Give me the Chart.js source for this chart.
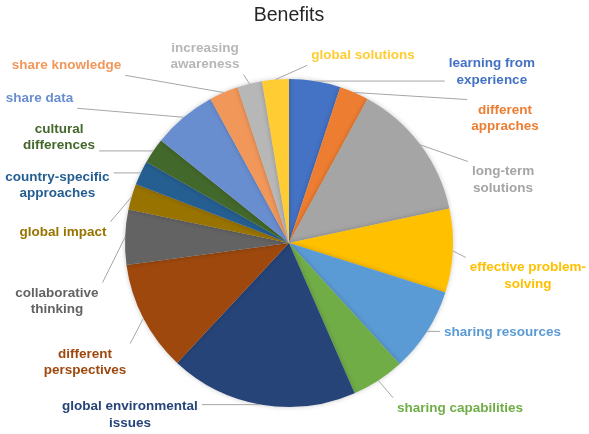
<!DOCTYPE html>
<html>
<head>
<meta charset="utf-8">
<title>Benefits</title>
<script src="https://cdn.jsdelivr.net/npm/chart.js@4/dist/chart.umd.min.js"></script>
<style>
  html, body { margin: 0; padding: 0; background: #fff; }
  #wrap { width: 589px; height: 434px; }
</style>
</head>
<body>
<div id="wrap"><canvas id="benefits"></canvas></div>
<script>
// Benefits pie - slice sizes
const categories = [
    ['learning from', 'experience'],
    ['different', 'appraches'],
    ['long-term', 'solutions'],
    ['effective problem-', 'solving'],
    ['sharing resources'],
    ['sharing capabilities'],
    ['global environmental', 'issues'],
    ['different', 'perspectives'],
    ['collaborative', 'thinking'],
    ['global impact'],
    ['country-specific', 'approaches'],
    ['cultural', 'differences'],
    ['share data'],
    ['share knowledge'],
    ['increasing', 'awareness'],
    ['global solutions']
];
const values = [18.2, 10.4, 49.3, 29.7, 30.0, 18.8, 66.6, 39.3, 19.5, 9.2, 8.6, 9.1, 22.7, 10.3, 8.8, 9.5];

const sliceColors = [
    '#4472C4', '#ED7D31', '#A5A5A5', '#FFC000', '#5B9BD5', '#70AD47', '#264478', '#9E480E',
    '#636363', '#997300', '#255E91', '#43682B', '#698ED0', '#F1975A', '#B7B7B7', '#FFCD33'
];

// label centres, in units of the pie radius, relative to the pie centre
const labelSpots = [
    [1.237, -1.045], [1.317, -0.762], [1.305, -0.384], [1.457, 0.201],
    [1.302, 0.543], [1.043, 1.006], [-0.970, 1.046], [-1.244, 0.726],
    [-1.415, 0.354], [-1.378, -0.067], [-1.412, -0.351], [-1.402, -0.646],
    [-1.521, -0.884], [-1.357, -1.085], [-0.512, -1.140], [0.451, -1.146]
];

const outsideLabels = {
    id: 'outsideLabels',
    afterDatasetsDraw(chart) {
        const ctx = chart.ctx;
        const meta = chart.getDatasetMeta(0);
        const lineH = 16.5;
        ctx.save();
        ctx.font = 'bold 13.5px "Liberation Sans", Arial, sans-serif';
        ctx.textAlign = 'center';
        ctx.textBaseline = 'middle';
        meta.data.forEach((arc, i) => {
            const r = arc.outerRadius;
            const mid = (arc.startAngle + arc.endAngle) / 2;
            const ax = arc.x + Math.cos(mid) * r;
            const ay = arc.y + Math.sin(mid) * r;
            const lines = chart.data.labels[i];
            const cx = arc.x + labelSpots[i][0] * r;
            const cy = arc.y + labelSpots[i][1] * r;
            const w = Math.max(...lines.map(l => ctx.measureText(l).width));
            const h = lines.length * lineH;
            // leader line to nearest point of the label box
            const left = cx - w / 2 - 4, right = cx + w / 2 + 4;
            const top = cy - h / 2 - 2, bottom = cy + h / 2 + 2;
            const tx = Math.min(Math.max(ax, left), right);
            const ty = Math.min(Math.max(ay, top), bottom);
            ctx.strokeStyle = '#A6A6A6';
            ctx.lineWidth = 1;
            ctx.beginPath();
            ctx.moveTo(ax, ay);
            ctx.lineTo(tx, ty);
            ctx.stroke();
            ctx.fillStyle = sliceColors[i];
            lines.forEach((l, k) => {
                ctx.fillText(l, cx, cy - h / 2 + lineH * (k + 0.5));
            });
        });
        ctx.restore();
    }
};

const pieShadow = {
    id: 'pieShadow',
    beforeDatasetsDraw(chart) {
        const ctx = chart.ctx;
        ctx.save();
        ctx.shadowColor = 'rgba(0,0,0,0.22)';
        ctx.shadowBlur = 5;
    },
    afterDatasetsDraw(chart) {
        chart.ctx.restore();
    }
};

new Chart(document.getElementById('benefits'), {
    type: 'pie',
    data: {
        labels: categories,
        datasets: [{
            data: values,
            backgroundColor: sliceColors,
            borderWidth: 0
        }]
    },
    options: {
        responsive: true,
        maintainAspectRatio: false,
        animation: false,
        layout: { padding: { left: 0, right: 11, top: 0, bottom: 27 } },
        plugins: {
            legend: { display: false },
            tooltip: { enabled: false },
            title: {
                display: true,
                text: 'Benefits',
                color: '#262626',
                font: { family: '"Liberation Sans", Arial, sans-serif', size: 19.5, weight: 'normal' },
                padding: { top: 4, bottom: 51.6 }
            }
        }
    },
    plugins: [pieShadow, outsideLabels]
});
</script>
</body>
</html>
